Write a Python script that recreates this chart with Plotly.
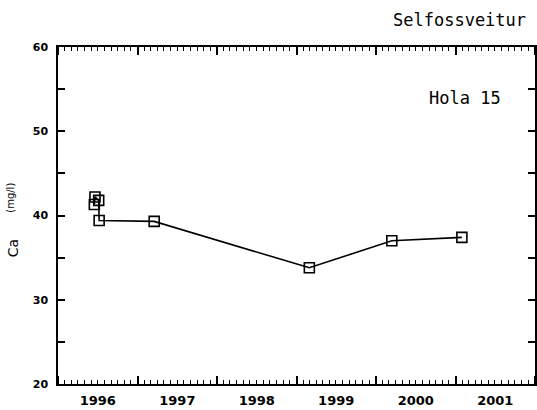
import plotly.graph_objects as go

dates = ["1996-06-16", "1996-06-19", "1996-07-06", "1996-07-08",
         "1997-03-18", "1999-03-01", "2000-03-14", "2001-01-30"]
ca = [41.3, 42.2, 41.8, 39.4, 39.3, 33.8, 37.0, 37.4]

site_title = "Selfossveitur"
well_label = "Hola 15"
y_name = "Ca"
y_unit = "(mg/l)"

fig = go.Figure()
fig.add_trace(go.Scatter(
    x=dates, y=ca, mode="lines+markers",
    line=dict(color="black", width=1.6),
    marker=dict(symbol="square-open", size=10, color="black", line=dict(width=1.6)),
    showlegend=False,
))

fig.update_layout(
    width=537, height=410,
    margin=dict(l=58, r=2, t=47, b=26),
    paper_bgcolor="white", plot_bgcolor="white",
    xaxis=dict(
        type="date", range=["1996-01-01", "2002-01-01"],
        tick0="1996-01-01", dtick="M12", tickformat="%Y",
        ticklabelmode="period",
        ticks="inside", ticklen=8, tickwidth=1.5, tickcolor="black",
        minor=dict(dtick="M1", ticks="inside", ticklen=4, tickwidth=1, tickcolor="black", showgrid=False),
        showline=True, linewidth=1.5, linecolor="black", mirror="allticks",
        showgrid=False, zeroline=False, automargin=False,
        tickfont=dict(family="DejaVu Sans", size=13, color="black", weight="bold"),
        ticklabelstandoff=4,
    ),
    yaxis=dict(
        range=[20, 60], tick0=20, dtick=10,
        ticks="inside", ticklen=7, tickwidth=1.5, tickcolor="black",
        minor=dict(dtick=5, ticks="inside", ticklen=7, tickwidth=1.5, tickcolor="black", showgrid=False),
        showline=True, linewidth=1.5, linecolor="black", mirror="allticks",
        showgrid=False, zeroline=False, automargin=False,
        tickfont=dict(family="DejaVu Sans", size=11, color="black", weight="bold"),
        ticklabelstandoff=6,
    ),
    annotations=[
        dict(text=site_title, xref="paper", yref="paper", x=0.9853, y=1.080,
             xanchor="right", yanchor="middle", showarrow=False,
             font=dict(family="DejaVu Sans Mono", size=17, color="black")),
        dict(text=well_label, xref="paper", yref="paper", x=0.932, y=0.8496,
             xanchor="right", yanchor="middle", showarrow=False,
             font=dict(family="DejaVu Sans Mono", size=17, color="black")),
        dict(text=y_name, xref="paper", yref="paper", x=-0.0956, y=0.404,
             xanchor="center", yanchor="middle", showarrow=False, textangle=-90,
             font=dict(family="DejaVu Sans", size=14, color="black")),
        dict(text=y_unit, xref="paper", yref="paper", x=-0.099, y=0.552,
             xanchor="center", yanchor="middle", showarrow=False, textangle=-90,
             font=dict(family="DejaVu Sans", size=10, color="black")),
    ],
)

fig.write_html("out.html", config={"displayModeBar": False},
               post_script="document.body.style.margin='0';")
